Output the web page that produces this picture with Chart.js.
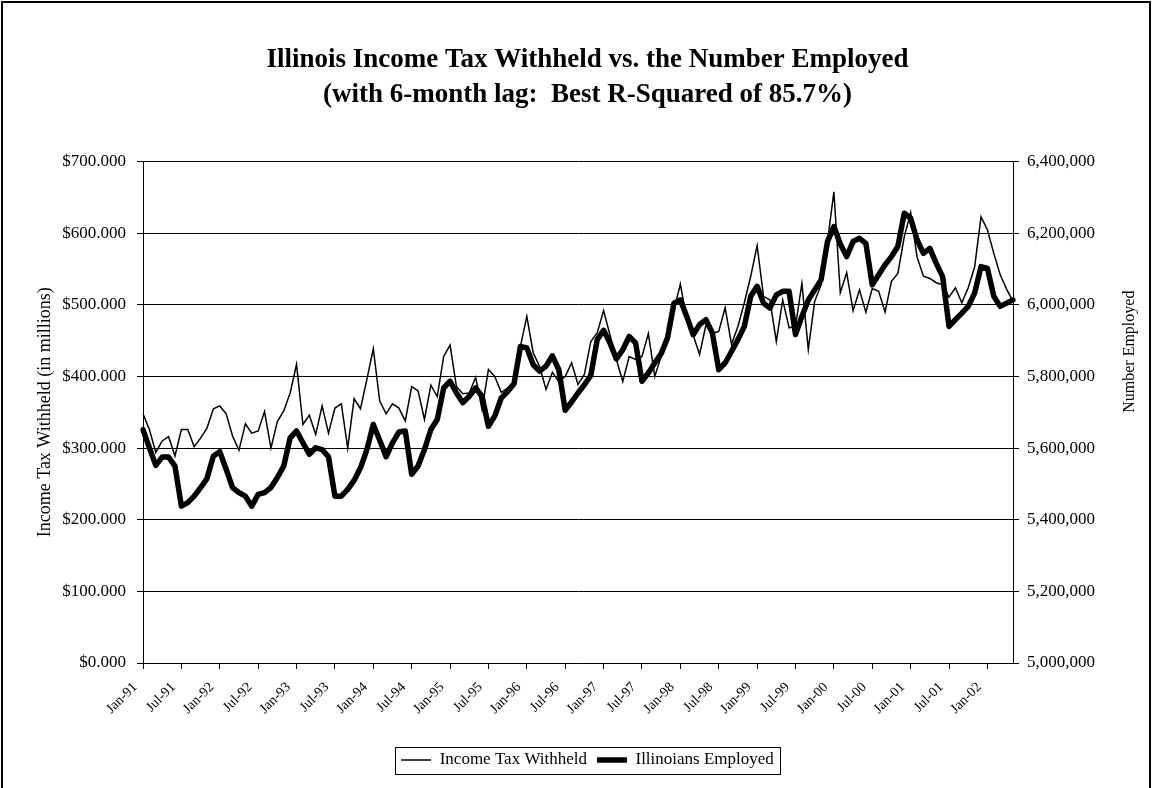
<!DOCTYPE html>
<html>
<head>
<meta charset="utf-8">
<script src="https://cdn.jsdelivr.net/npm/chart.js@4.4.1/dist/chart.umd.min.js"></script>
<style>
  html, body { margin: 0; padding: 0; background: #fff; }
  #wrap { position: relative; width: 1153px; height: 788px; }
</style>
</head>
<body>
<div id="wrap"><canvas id="c" width="1153" height="788"></canvas></div>
<script>
const months = [
  'Jan-91','Feb-91','Mar-91','Apr-91','May-91','Jun-91','Jul-91','Aug-91','Sep-91','Oct-91','Nov-91','Dec-91',
  'Jan-92','Feb-92','Mar-92','Apr-92','May-92','Jun-92','Jul-92','Aug-92','Sep-92','Oct-92','Nov-92','Dec-92',
  'Jan-93','Feb-93','Mar-93','Apr-93','May-93','Jun-93','Jul-93','Aug-93','Sep-93','Oct-93','Nov-93','Dec-93',
  'Jan-94','Feb-94','Mar-94','Apr-94','May-94','Jun-94','Jul-94','Aug-94','Sep-94','Oct-94','Nov-94','Dec-94',
  'Jan-95','Feb-95','Mar-95','Apr-95','May-95','Jun-95','Jul-95','Aug-95','Sep-95','Oct-95','Nov-95','Dec-95',
  'Jan-96','Feb-96','Mar-96','Apr-96','May-96','Jun-96','Jul-96','Aug-96','Sep-96','Oct-96','Nov-96','Dec-96',
  'Jan-97','Feb-97','Mar-97','Apr-97','May-97','Jun-97','Jul-97','Aug-97','Sep-97','Oct-97','Nov-97','Dec-97',
  'Jan-98','Feb-98','Mar-98','Apr-98','May-98','Jun-98','Jul-98','Aug-98','Sep-98','Oct-98','Nov-98','Dec-98',
  'Jan-99','Feb-99','Mar-99','Apr-99','May-99','Jun-99','Jul-99','Aug-99','Sep-99','Oct-99','Nov-99','Dec-99',
  'Jan-00','Feb-00','Mar-00','Apr-00','May-00','Jun-00','Jul-00','Aug-00','Sep-00','Oct-00','Nov-00','Dec-00',
  'Jan-01','Feb-01','Mar-01','Apr-01','May-01','Jun-01','Jul-01','Aug-01','Sep-01','Oct-01','Nov-01','Dec-01',
  'Jan-02','Feb-02','Mar-02','Apr-02','May-02'
];

// Income tax withheld, $ millions (left axis)
const incomeTaxWithheld = [
  348,326,294,310,316,289,326,326,302,314,328,355,
  359,348,317,297,334,321,324,351,300,337,352,377,
  417,333,346,319,359,321,356,362,300,369,355,396,
  439,366,348,362,356,338,386,380,340,388,372,428,
  444,386,376,377,399,354,410,400,378,384,393,442,
  484,433,414,382,406,393,400,419,389,403,449,461,
  492,458,424,393,428,424,428,460,400,428,456,493,
  529,480,458,431,472,460,463,496,445,470,503,540,
  583,512,507,449,507,468,470,530,438,505,528,588,
  658,517,545,492,521,490,523,519,490,533,544,595,
  629,567,540,537,531,528,511,524,503,524,553,623,
  605,572,542,522,505
];

// Illinoians employed, persons (right axis)
const illinoiansEmployed = [
  5652000,5601000,5552000,5575000,5575000,5550000,5438000,5448000,5466000,5490000,5515000,5578000,
  5590000,5541000,5490000,5476000,5466000,5438000,5471000,5476000,5490000,5518000,5550000,5629000,
  5648000,5615000,5583000,5601000,5596000,5576000,5466000,5466000,5485000,5510000,5545000,5596000,
  5666000,5622000,5576000,5615000,5645000,5648000,5527000,5550000,5596000,5652000,5680000,5768000,
  5787000,5754000,5727000,5745000,5768000,5745000,5661000,5690000,5740000,5758000,5780000,5884000,
  5880000,5833000,5815000,5829000,5858000,5819000,5706000,5729000,5754000,5777000,5803000,5903000,
  5929000,5894000,5849000,5875000,5912000,5894000,5787000,5810000,5838000,5864000,5908000,6005000,
  6014000,5968000,5917000,5945000,5959000,5922000,5819000,5838000,5870000,5903000,5940000,6024000,
  6052000,6005000,5991000,6028000,6038000,6038000,5917000,5968000,6014000,6042000,6070000,6177000,
  6219000,6170000,6135000,6177000,6186000,6172000,6056000,6084000,6112000,6135000,6163000,6256000,
  6242000,6182000,6144000,6158000,6116000,6079000,5940000,5959000,5977000,5996000,6033000,6107000,
  6102000,6024000,5996000,6005000,6014000
];

const titleLines = ['Illinois Income Tax Withheld vs. the Number Employed', '(with 6-month lag:  Best R-Squared of 85.7%)'];
const seriesNames = ['Income Tax Withheld', 'Illinoians Employed'];
const leftAxisTitle = 'Income Tax Withheld (in millions)';
const rightAxisTitle = 'Number Employed';
const leftTicks = { min: 0, max: 700, step: 100 };
const rightTicks = { min: 5000000, max: 6400000, step: 200000 };
const labelEvery = 6;

const SERIF = '"Liberation Serif", "Times New Roman", serif';

const decor = {
  id: 'decor',
  afterDraw(chart) {
    const ctx = chart.ctx;
    const ca = chart.chartArea;
    ctx.save();
    // right axis title (reads bottom to top)
    ctx.font = '16px ' + SERIF;
    ctx.fillStyle = '#000';
    ctx.textAlign = 'center';
    ctx.textBaseline = 'middle';
    ctx.translate(ca.right + 117, ca.top + 190);
    ctx.rotate(-Math.PI / 2);
    ctx.fillText(rightAxisTitle, 0, 0);
    ctx.restore();

    // legend frame
    const boxes = chart.legend && chart.legend.legendHitBoxes;
    if (boxes && boxes.length) {
      let l = Infinity, r = -Infinity;
      boxes.forEach(h => { l = Math.min(l, h.left); r = Math.max(r, h.left + h.width); });
      ctx.save();
      ctx.strokeStyle = '#000';
      ctx.lineWidth = 1;
      ctx.strokeRect(Math.round(l - 6) + 0.5, 747.5, Math.round(r - l + 12), 27);
      ctx.restore();
    }

    // outer chart border
    ctx.save();
    ctx.strokeStyle = '#000';
    ctx.lineWidth = 2;
    ctx.strokeRect(2, 2, 1148, 820);
    ctx.restore();
  }
};

new Chart(document.getElementById('c'), {
  type: 'line',
  data: {
    labels: months,
    datasets: [
      {
        label: seriesNames[0],
        data: incomeTaxWithheld,
        yAxisID: 'y',
        borderColor: '#000',
        backgroundColor: '#000',
        borderWidth: 1.5,
        pointRadius: 0,
        tension: 0,
        order: 1
      },
      {
        label: seriesNames[1],
        data: illinoiansEmployed,
        yAxisID: 'y1',
        borderColor: '#000',
        backgroundColor: '#000',
        borderWidth: 5.5,
        borderJoinStyle: 'round',
        borderCapStyle: 'round',
        pointRadius: 0,
        tension: 0,
        order: 0
      }
    ]
  },
  options: {
    responsive: false,
    animation: false,
    devicePixelRatio: 1,
    layout: { padding: { left: 22, right: 0, top: 0, bottom: 9.5 } },
    plugins: {
      tooltip: { enabled: false },
      title: {
        display: true,
        text: titleLines,
        color: '#000',
        font: { family: SERIF, size: 27, weight: 'bold', lineHeight: 1.3 },
        padding: { top: 42.5, bottom: 49 }
      },
      legend: {
        position: 'bottom',
        labels: {
          color: '#000',
          font: { family: SERIF, size: 17 },
          usePointStyle: true,
          pointStyle: 'line',
          pointStyleWidth: 30,
          padding: 10,
          sort: (a, b) => a.datasetIndex - b.datasetIndex
        }
      }
    },
    scales: {
      x: {
        type: 'category',
        offset: false,
        afterFit: s => { s.height = 78.5; },
        grid: {
          drawOnChartArea: false,
          drawTicks: true,
          tickLength: 6,
          color: c => (c.index % labelEvery === 0 ? '#000' : 'rgba(0,0,0,0)')
        },
        border: { display: true, color: '#000', width: 1 },
        ticks: {
          autoSkip: false,
          maxRotation: 45,
          minRotation: 45,
          padding: 10,
          labelOffset: -8,
          color: '#000',
          font: { family: SERIF, size: 14 },
          callback: function (v, i) { return i % labelEvery === 0 ? months[i] : ''; }
        }
      },
      y: {
        position: 'left',
        min: leftTicks.min,
        max: leftTicks.max,
        afterFit: s => { s.width = 121; },
        grid: { color: '#000', lineWidth: 1, drawTicks: true, tickLength: 6 },
        border: { display: true, color: '#000', width: 1 },
        ticks: {
          stepSize: leftTicks.step,
          padding: 11,
          color: '#000',
          font: { family: SERIF, size: 17 },
          callback: v => '$' + v + '.000'
        },
        title: {
          display: true,
          text: leftAxisTitle,
          color: '#000',
          font: { family: SERIF, size: 18 },
          padding: { top: 12, bottom: 0 }
        }
      },
      y1: {
        position: 'right',
        min: rightTicks.min,
        max: rightTicks.max,
        afterFit: s => { s.width = 140; },
        grid: { drawOnChartArea: false, color: '#000', drawTicks: true, tickLength: 6 },
        border: { display: true, color: '#000', width: 1 },
        ticks: {
          stepSize: rightTicks.step,
          padding: 8,
          color: '#000',
          font: { family: SERIF, size: 17 },
          callback: v => v.toLocaleString('en-US')
        }
      }
    }
  },
  plugins: [decor]
});
</script>
</body>
</html>
